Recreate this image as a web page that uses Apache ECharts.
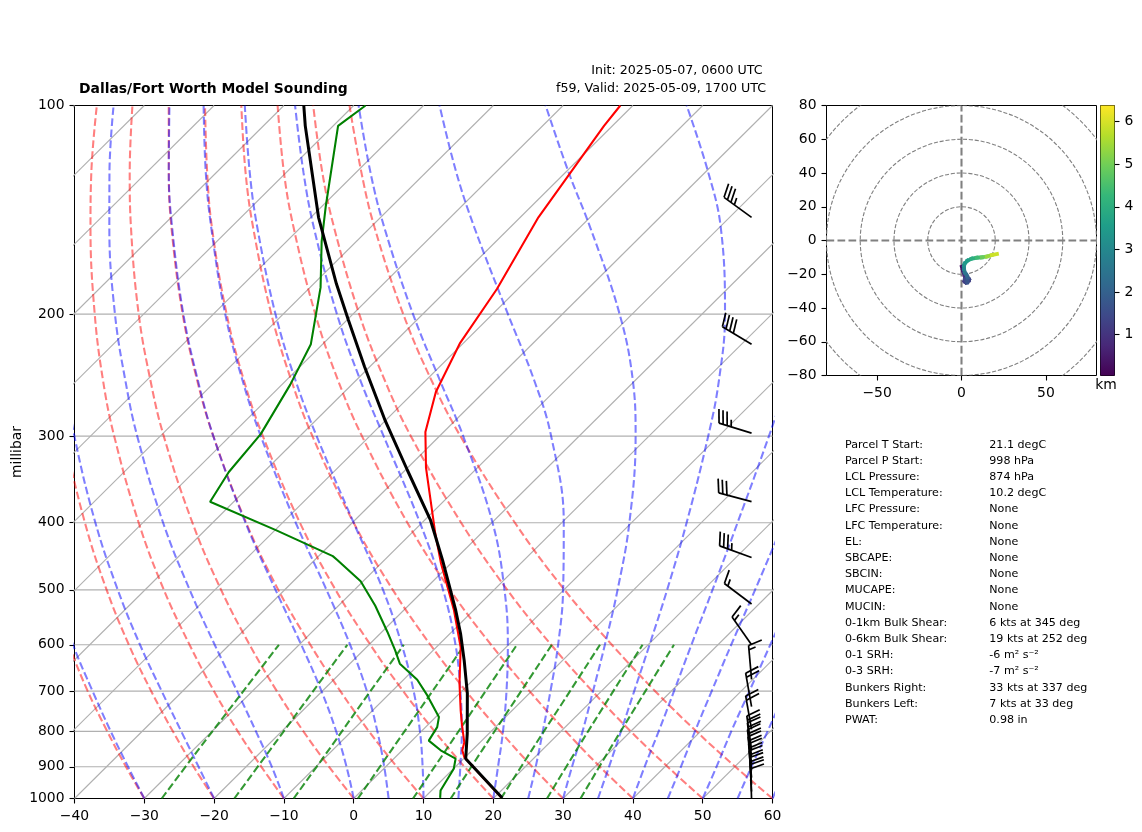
<!DOCTYPE html>
<html><head><meta charset="utf-8"><style>html,body{margin:0;padding:0;background:#fff}#chart{width:1142px;height:832px}</style></head>
<body><div id="chart"></div>
<script src="https://cdn.jsdelivr.net/npm/echarts@6/dist/echarts.min.js"></script>
<script>
// ---- values ----
const titleMain = 'Dallas/Fort Worth Model Sounding';
const titleInit = 'Init: 2025-05-07, 0600 UTC';
const titleValid = 'f59, Valid: 2025-05-09, 1700 UTC';
const pressureTicks = [100,200,300,400,500,600,700,800,900,1000];
const pressureGrid = [200,300,400,500,600,700,800,900];
const isothermBase = [-140,-130,-120,-110,-100,-90,-80,-70,-60,-50,-40,-30,-20,-10,0,10,20,30,40,50,60];
const isothermEnds = [1000,100];
// reference-curve tables: temperature (degC) at each of curveLevels
const curveLevels = [1000,900,800,700,600,500,400,300,250,200,150,125,100];
const moistAdiabats = [
 [-30.0,-36.9,-44.5,-52.9,-62.4,-73.0,-85.4,-100.2,-109.0,-119.1,-131.3,-138.5,-146.8],
 [-20.0,-26.8,-34.4,-43.0,-52.8,-63.9,-76.8,-92.3,-101.4,-112.0,-124.7,-132.3,-141.0],
 [-10.0,-16.3,-23.7,-32.2,-42.1,-53.6,-67.1,-83.3,-92.9,-104.1,-117.4,-125.3,-134.4],
 [0.0,-5.6,-12.2,-20.1,-29.7,-41.3,-55.3,-72.4,-82.5,-94.3,-108.4,-116.8,-126.4],
 [5.0,-0.2,-6.3,-13.6,-22.7,-34.0,-48.1,-65.6,-76.1,-88.3,-102.8,-111.5,-121.5],
 [10.0,5.3,-0.2,-6.9,-15.3,-25.9,-39.8,-57.6,-68.5,-81.1,-96.2,-105.2,-115.6],
 [15.0,10.7,5.8,-0.2,-7.6,-17.3,-30.3,-48.0,-59.2,-72.3,-88.1,-97.5,-108.4],
 [20.0,16.1,11.7,6.4,-0.1,-8.5,-19.9,-36.6,-47.8,-61.4,-78.0,-87.9,-99.3],
 [25.0,21.5,17.4,12.7,7.1,-0.1,-9.7,-24.0,-34.3,-47.8,-65.1,-75.6,-87.7],
 [30.0,26.7,23.1,18.8,13.8,7.7,-0.3,-11.9,-20.2,-31.8,-48.5,-59.5,-72.5],
 [35.0,32.0,28.6,24.7,20.2,14.8,7.9,-1.5,-7.9,-16.7,-29.8,-39.5,-52.3],
 [40.0,37.1,34.0,30.4,26.2,21.3,15.2,7.2,1.9,-4.8,-14.2,-20.9,-30.2],
 [45.0,42.3,39.2,35.8,31.9,27.4,21.8,14.6,10.1,4.5,-3.0,-7.9,-14.3],
 [50.0,47.4,44.4,41.2,37.5,33.1,27.9,21.2,17.1,12.0,5.6,1.4,-3.6],
 [55.0,52.4,49.6,46.4,42.8,38.6,33.6,27.3,23.4,18.6,12.7,8.9,4.4],
 [60.0,57.5,54.7,51.6,48.0,43.9,39.0,32.9,29.1,24.6,18.9,15.3,11.1]
];
const dryAdiabats = [
 [-30.0,-37.2,-45.0,-53.6,-63.0,-73.7,-86.0,-100.8,-109.5,-119.6,-131.7,-138.9,-147.2],
 [-20.0,-27.5,-35.6,-44.5,-54.4,-65.5,-78.3,-93.7,-102.8,-113.3,-125.9,-133.4,-142.0],
 [-10.0,-17.8,-26.3,-35.5,-45.7,-57.3,-70.6,-86.6,-96.1,-107.0,-120.1,-127.9,-136.8],
 [0.0,-8.1,-16.9,-26.5,-37.1,-49.1,-62.9,-79.5,-89.3,-100.7,-114.3,-122.4,-131.7],
 [10.0,1.6,-7.5,-17.4,-28.4,-40.9,-55.2,-72.4,-82.6,-94.4,-108.5,-116.8,-126.5],
 [20.0,11.3,1.9,-8.4,-19.8,-32.7,-47.5,-65.3,-75.9,-88.1,-102.7,-111.3,-121.3],
 [30.0,21.0,11.3,0.6,-11.2,-24.5,-39.8,-58.2,-69.1,-81.7,-96.8,-105.8,-116.1],
 [40.0,30.7,20.7,9.7,-2.5,-16.3,-32.1,-51.1,-62.4,-75.4,-91.0,-100.3,-110.9],
 [50.0,40.4,30.0,18.7,6.1,-8.1,-24.4,-44.1,-55.7,-69.1,-85.2,-94.8,-105.8],
 [60.0,50.1,39.4,27.7,14.8,0.1,-16.7,-37.0,-49.0,-62.8,-79.4,-89.2,-100.6]
];
const mixingLevels = [1000,850,700,600];
const mixingLines = [
 [-27.5,-29.3,-31.3,-32.9],[-17.1,-19.0,-21.3,-23.1],[-8.6,-10.6,-13.1,-15.0],[0.6,-1.6,-4.2,-6.3],[8.5,6.2,3.4,1.2],
 [13.9,11.4,8.5,6.2],[21.1,18.5,15.5,13.1],[27.7,24.9,21.7,19.2],[32.5,29.6,26.3,23.7]
];
// sounding
const tempP = [998,872,852,830,780,746,683,605,535,458,415,333,296,259,220,184,145,107,100];
const tempT = [21.1,9.9,8.6,7.75,4.7,2.6,-1.4,-6.5,-12.8,-21.4,-26.5,-37.4,-42.6,-46.9,-50.5,-53.0,-57.4,-61.2,-61.8];
const dewP = [998,974,906,876,852,825,789,763,710,674,639,612,575,527,486,453,447,410,373,338,298,253,221,183,157,140,107,100];
const dewT = [12.3,11.3,10.05,8.85,5.5,2.4,1.67,0.46,-4.33,-8.03,-12.84,-15.37,-19.2,-24.73,-30.34,-36.7,-37.96,-49.87,-63.4,-65.0,-65.9,-68.8,-71.7,-78.5,-85.0,-89.4,-99.3,-98.3];
const parcelP = [998,876,806,705,632,578,535,453,397,336,285,238,204,181,145,107,100];
const parcelT = [21.2,10.3,6.9,1.1,-4.1,-8.5,-12.55,-21.66,-29.1,-39.67,-50.0,-60.8,-69.8,-76.7,-88.9,-104.0,-107.15];
// wind barbs
const barbColumn = 57;
const barbP = [145,221,297,373,449,524,600,673,737,795,850,870,890,911,933,955,977,1000];
const barbSpeed = [35,40,35,30,35,15,15,15,20,20,20,20,20,20,20,20,20,20];
const barbDir = [306,301,287,285,290,307,325,355,350,350,352,353,353,354,355,356,357,358];
// hodograph
const hodoRings = [20,40,60,80,100];
const hodoH = [0.1,0.3,0.5,0.7,0.9,1.0,1.1,1.2,1.3,1.4,1.5,1.7,2.0,2.3,2.6,2.9,3.1,3.4,3.6,4.0,4.4,4.9,5.4,5.9];
const hodoU = [0.2,0.8,1.5,2,2.6,1.8,4.2,2.6,4.5,2.2,3.4,3.6,3,2,1.5,1.5,2,3.5,6,9,12,15,18,21];
const hodoV = [-15.5,-17.5,-19.5,-21.5,-23,-24.2,-23.8,-24.8,-23,-23,-24.8,-22,-20.5,-19,-17,-15,-13.5,-12,-10.8,-10.2,-10,-9.5,-8.6,-8];
const hodoXTicks = [-50,0,50];
const colorbarTicks = [1,2,3,4,5,6];
const viridis = ['#440154','#482878','#3e4989','#31688e','#26828e','#1f9e89','#35b779','#6ece58','#b5de2b','#fde725'];
// stats table
const statLabels = ['Parcel T Start:','Parcel P Start:','LCL Pressure:','LCL Temperature:','LFC Pressure:','LFC Temperature:','EL:','SBCAPE:','SBCIN:','MUCAPE:','MUCIN:','0-1km Bulk Shear:','0-6km Bulk Shear:','0-1 SRH:','0-3 SRH:','Bunkers Right:','Bunkers Left:','PWAT:'];
const statValues = ['21.1 degC','998 hPa','874 hPa','10.2 degC','None','None','None','None','None','None','None','6 kts at 345 deg','19 kts at 252 deg','-6 m\u00b2 s\u207b\u00b2','-7 m\u00b2 s\u207b\u00b2','33 kts at 337 deg','7 kts at 33 deg','0.98 in'];

// ---- chart ----
const FONT = "'DejaVu Sans'";
const SKEW = 100;                    // degC of x-axis shift per decade of pressure
const skewX = (t, p) => t + SKEW * Math.log10(1000 / p);
const curve = (temps, levels) => temps.map((t, i) => [skewX(t, levels[i]), levels[i]]);
const H_MIN = 0.04, H_MAX = 6.38;
function heightColor(h) {
  const f = Math.max(0, Math.min(1, (h - H_MIN) / (H_MAX - H_MIN))) * (viridis.length - 1);
  const i = Math.min(viridis.length - 2, Math.floor(f)), k = f - i;
  const a = echarts.color.parse(viridis[i]), b = echarts.color.parse(viridis[i + 1]);
  return 'rgb(' + [0,1,2].map(c => Math.round(a[c] + (b[c] - a[c]) * k)).join(',') + ')';
}
function lineSeries(data, color, width, dash, smooth) {
  return { type:'line', xAxisIndex:0, yAxisIndex:0, data, showSymbol:false, symbol:'none', silent:true, clip:true,
    smooth: smooth || false, lineStyle:{ color, width, type: dash ? dash : 'solid', cap:'butt' }, animation:false };
}
function renderBarb(params, api) {
  const base = api.coord([api.value(0), api.value(1)]);
  const speed = api.value(2), dir = api.value(3) * Math.PI / 180;
  const L = 34, dx = Math.sin(dir), dy = -Math.cos(dir);     // base -> tail
  const px = -dy, py = dx;                                    // right-hand side of the stem
  const tail = [base[0] + dx * L, base[1] + dy * L];
  const seg = (a, b) => ({ type:'line', shape:{ x1:a[0], y1:a[1], x2:b[0], y2:b[1] }, style:{ stroke:'#000', lineWidth:1.7 } });
  const children = [seg(base, tail)];
  const nFull = Math.floor(speed / 10), half = speed - nFull * 10 >= 5;
  const spacing = L * 0.125, fullH = L * 0.4, back = L * 0.125;
  let off = 0;
  for (let i = 0; i < nFull; i++) {
    const s = [tail[0] - dx * off, tail[1] - dy * off];
    children.push(seg(s, [s[0] + px * fullH + dx * back, s[1] + py * fullH + dy * back]));
    off += spacing;
  }
  if (half) {
    if (nFull === 0) off += spacing;
    const s = [tail[0] - dx * off, tail[1] - dy * off];
    children.push(seg(s, [s[0] + px * fullH / 2 + dx * back / 2, s[1] + py * fullH / 2 + dy * back / 2]));
  }
  return { type:'group', children };
}
const series = [];
pressureGrid.forEach(p => series.push(lineSeries([[-40,p],[60,p]], '#b0b0b0', 1.1)));
isothermBase.forEach(t => series.push(lineSeries(isothermEnds.map(p => [skewX(t,p),p]), '#b0b0b0', 1.1)));
dryAdiabats.forEach(c => series.push(lineSeries(curve(c,curveLevels), 'rgba(255,0,0,0.5)', 2.08, [7.7,3.3], 0.4)));
moistAdiabats.forEach(c => series.push(lineSeries(curve(c,curveLevels), 'rgba(0,0,255,0.5)', 2.08, [7.7,3.3], 0.4)));
mixingLines.forEach(c => series.push(lineSeries(curve(c,mixingLevels), 'rgba(0,128,0,0.8)', 2.08, [7.7,3.3], 0.4)));
series.push(lineSeries(curve(dewT,dewP), '#008000', 2.08));
series.push(lineSeries(curve(tempT,tempP), '#ff0000', 2.08));
series.push(lineSeries(curve(parcelT,parcelP), '#000000', 3));
series.push({ type:'custom', xAxisIndex:0, yAxisIndex:0, clip:false, silent:true, animation:false, z:10,
  data: barbP.map((p,i) => [barbColumn, p, barbSpeed[i], barbDir[i]]), encode:{ x:0, y:1 }, renderItem: renderBarb });
// hodograph
series.push({ type:'custom', xAxisIndex:1, yAxisIndex:1, clip:true, silent:true, animation:false,
  data: hodoRings.map(r => [0,0,r]), encode:{ x:0, y:1 },
  renderItem(params, api) {
    const c = api.coord([0,0]), r = api.size([api.value(2),0])[0];
    return { type:'circle', shape:{ cx:c[0], cy:c[1], r }, style:{ fill:'none', stroke:'#808080', lineWidth:1.1, lineDash:[4.1,1.8] } };
  }});
[[[-80,0],[80,0]], [[0,-80],[0,80]]].forEach(d => series.push({ type:'line', xAxisIndex:1, yAxisIndex:1, data:d, symbol:'none', silent:true, animation:false,
  lineStyle:{ color:'#808080', width:2.08, type:[7.7,3.3], cap:'butt' } }));
series.push({ type:'custom', xAxisIndex:1, yAxisIndex:1, clip:true, silent:true, animation:false, z:5,
  data: hodoU.map((u,i) => [u, hodoV[i], hodoH[i], i]), encode:{ x:0, y:1 },
  renderItem(params, api) {
    const i = api.value(3);
    if (i === 0) return null;
    const a = api.coord([hodoU[i-1], hodoV[i-1]]), b = api.coord([api.value(0), api.value(1)]);
    return { type:'line', shape:{ x1:a[0], y1:a[1], x2:b[0], y2:b[1] }, style:{ stroke:heightColor(api.value(2)), lineWidth:3.8, lineCap:'square' } };
  }});
// colour bar
series.push({ type:'custom', xAxisIndex:2, yAxisIndex:2, silent:true, animation:false, data:[[0,H_MIN]], encode:{ x:0, y:1 },
  renderItem(params) {
    const s = params.coordSys;
    return { type:'rect', shape:{ x:s.x, y:s.y, width:s.width, height:s.height },
      style:{ fill:new echarts.graphic.LinearGradient(0,1,0,0, viridis.map((c,i) => ({ offset:i/(viridis.length-1), color:c }))) } };
  }});
const tickStyle = { show:true, length:5, lineStyle:{ color:'#000', width:1.1 } };
const labelStyle = { color:'#000', fontFamily:FONT, fontSize:13.9 };
const yLabelStyle = Object.assign({ padding:[3,0,0,0], margin:10 }, labelStyle);
const xLabelStyle = Object.assign({ margin:10.5 }, labelStyle);
const minus = v => String(v).replace('-', '\u2212');
const noLine = { show:false, onZero:false };
const texts = [];
function text(x, y, str, font, align) {
  texts.push({ type:'text', x, y, silent:true, z:20, style:{ text:str, font, fill:'#000', textAlign:align || 'left', textVerticalAlign:'middle' } });
}
text(79, 89, titleMain, "bold 13.9px " + FONT);
text(762.5, 71, titleInit, "12.65px " + FONT, 'right');
text(766, 89, titleValid, "12.65px " + FONT, 'right');
text(1106, 385.5, 'km', "13.9px " + FONT, 'center');
const statTop = 444.8, statStep = 16.2;
statLabels.forEach((s,i) => text(845, statTop + i * statStep, s, "11.1px " + FONT));
statValues.forEach((s,i) => text(989.3, statTop + i * statStep, s, "11.1px " + FONT));
const chart = echarts.init(document.getElementById('chart'), null, { renderer:'canvas', width:1142, height:832 });
chart.setOption({
  animation:false, backgroundColor:'#fff', tooltip:{ show:false },
  grid:[
    { left:74.5, top:105.5, width:698, height:693, show:true, borderColor:'#000', borderWidth:1, backgroundColor:'transparent', outerBoundsMode:'none' },
    { left:826.5, top:105.5, width:270, height:270, show:true, borderColor:'#000', borderWidth:1, backgroundColor:'transparent', outerBoundsMode:'none' },
    { left:1100.5, top:105.5, width:14, height:270, show:true, borderColor:'#000', borderWidth:1, backgroundColor:'transparent', outerBoundsMode:'none' }
  ],
  xAxis:[
    { type:'value', gridIndex:0, min:-40, max:60, interval:10, splitLine:{show:false}, axisLine:noLine, axisTick:tickStyle, axisLabel:Object.assign({ formatter:minus }, xLabelStyle) },
    { type:'value', gridIndex:1, min:-80, max:80, splitLine:{show:false}, axisLine:noLine, axisTick:Object.assign({ customValues:hodoXTicks }, tickStyle),
      axisLabel:Object.assign({ customValues:hodoXTicks, formatter:minus }, xLabelStyle) },
    { type:'value', gridIndex:2, min:0, max:1, show:false }
  ],
  yAxis:[
    { type:'log', logBase:10, gridIndex:0, min:100, max:1000, inverse:true, splitLine:{show:false}, minorTick:{show:false}, axisLine:noLine,
      axisTick:Object.assign({ customValues:pressureTicks }, tickStyle),
      axisLabel:Object.assign({ customValues:pressureTicks, formatter:v => String(v) }, yLabelStyle),
      name:'millibar', nameLocation:'middle', nameRotate:90, nameGap:50, nameMoveOverlap:false, nameTextStyle:{ color:'#000', fontFamily:FONT, fontSize:13.9 } },
    { type:'value', gridIndex:1, min:-80, max:80, interval:20, splitLine:{show:false}, axisLine:noLine, axisTick:tickStyle, axisLabel:Object.assign({ formatter:minus }, yLabelStyle) },
    { type:'value', gridIndex:2, position:'right', min:H_MIN, max:H_MAX, splitLine:{show:false}, axisLine:noLine, axisTick:Object.assign({ customValues:colorbarTicks }, tickStyle),
      axisLabel:Object.assign({ customValues:colorbarTicks }, yLabelStyle) }
  ],
  series, graphic:{ elements:texts }
});
</script></body></html>
